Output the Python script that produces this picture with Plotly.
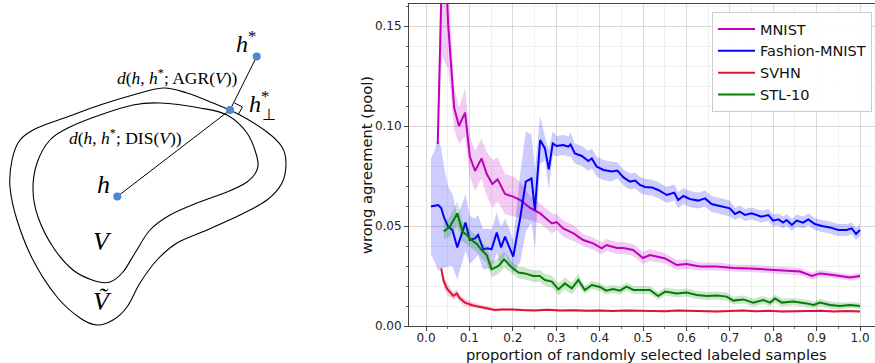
import plotly.graph_objects as go

# ---------------- data ----------------
mnist_x = [0.027, 0.037, 0.047, 0.051, 0.058, 0.065, 0.076, 0.09, 0.101, 0.113, 0.128, 0.14, 0.153, 0.165,
           0.182, 0.201, 0.217, 0.24, 0.263, 0.29, 0.301, 0.316, 0.34, 0.362, 0.385, 0.405, 0.416, 0.44,
           0.455, 0.477, 0.5, 0.516, 0.551, 0.578, 0.6, 0.631, 0.67, 0.708, 0.746, 0.785, 0.831, 0.862,
           0.889, 0.908, 0.938, 0.977, 1.0]
mnist_y = [0.091, 0.18, 0.172, 0.151, 0.13, 0.109, 0.100, 0.1067, 0.0847, 0.0775, 0.0838, 0.076, 0.071, 0.0733,
           0.066, 0.0647, 0.063, 0.059, 0.0563, 0.0513, 0.052, 0.0488, 0.0463, 0.043, 0.0413, 0.0388, 0.0405, 0.039,
           0.039, 0.038, 0.034, 0.0355, 0.0338, 0.0305, 0.031, 0.0297, 0.0297, 0.029, 0.0288, 0.0283, 0.0277, 0.0272,
           0.025, 0.0263, 0.0255, 0.0243, 0.025]
mnist_sd = [0.004, 0.045, 0.042, 0.022, 0.016, 0.011, 0.009, 0.012, 0.010, 0.010, 0.010, 0.011, 0.012, 0.011,
            0.010, 0.010, 0.009, 0.006, 0.005, 0.005, 0.004, 0.004, 0.004, 0.003, 0.003, 0.003, 0.003, 0.003,
            0.003, 0.003, 0.003, 0.003, 0.0025, 0.0025, 0.0025, 0.002, 0.002, 0.0018, 0.0018, 0.0018, 0.0018, 0.0018,
            0.0018, 0.0018, 0.0015, 0.0015, 0.0015]

fashion_x = [0.0115, 0.02, 0.028, 0.035, 0.042, 0.051, 0.061, 0.072, 0.082, 0.091, 0.101, 0.113, 0.12, 0.132,
             0.142, 0.151, 0.163, 0.173, 0.182, 0.191, 0.201, 0.217, 0.23, 0.243, 0.251, 0.263, 0.274, 0.283,
             0.292, 0.301, 0.316, 0.328, 0.333, 0.343, 0.359, 0.374, 0.382, 0.393, 0.409, 0.428, 0.441, 0.455,
             0.47, 0.482, 0.493, 0.505, 0.52, 0.535, 0.555, 0.572, 0.581, 0.593, 0.608, 0.627, 0.643, 0.658,
             0.677, 0.7, 0.712, 0.723, 0.735, 0.75, 0.773, 0.789, 0.8, 0.812, 0.823, 0.831, 0.843, 0.854,
             0.869, 0.881, 0.896, 0.912, 0.931, 0.95, 0.969, 0.981, 0.991, 1.0]
fashion_y = [0.0597, 0.060, 0.0605, 0.059, 0.054, 0.0497, 0.048, 0.0393, 0.0455, 0.0517, 0.043, 0.0438, 0.0455, 0.0383,
             0.0388, 0.0383, 0.0467, 0.0393, 0.0447, 0.040, 0.0347, 0.054, 0.0722, 0.0738, 0.058, 0.093, 0.0888, 0.0783,
             0.0913, 0.090, 0.0905, 0.0897, 0.0908, 0.0863, 0.085, 0.0825, 0.0838, 0.0797, 0.078, 0.0772, 0.0777, 0.0743,
             0.0722, 0.0727, 0.0705, 0.0695, 0.0693, 0.068, 0.0655, 0.0667, 0.063, 0.065, 0.0635, 0.0627, 0.0638, 0.061,
             0.060, 0.0588, 0.056, 0.0572, 0.0555, 0.0563, 0.0547, 0.0555, 0.0527, 0.0533, 0.0517, 0.053, 0.0505, 0.0527,
             0.0517, 0.0533, 0.051, 0.050, 0.0493, 0.048, 0.048, 0.0488, 0.046, 0.048]
fashion_sd = [0.024, 0.028, 0.033, 0.030, 0.025, 0.020, 0.018, 0.016, 0.015, 0.014, 0.012, 0.010, 0.010, 0.010,
              0.010, 0.010, 0.010, 0.010, 0.009, 0.009, 0.008, 0.022, 0.025, 0.022, 0.020, 0.012, 0.006, 0.010,
              0.006, 0.005, 0.005, 0.005, 0.006, 0.005, 0.005, 0.005, 0.005, 0.005, 0.005, 0.005, 0.004, 0.004,
              0.004, 0.004, 0.004, 0.004, 0.004, 0.004, 0.004, 0.004, 0.004, 0.004, 0.004, 0.004, 0.004, 0.004,
              0.004, 0.004, 0.003, 0.003, 0.003, 0.003, 0.003, 0.003, 0.003, 0.003, 0.003, 0.003, 0.003, 0.003,
              0.003, 0.003, 0.003, 0.003, 0.003, 0.003, 0.003, 0.003, 0.003, 0.003]

svhn_x = [0.035, 0.04, 0.048, 0.055, 0.063, 0.071, 0.078, 0.09, 0.105, 0.12, 0.144, 0.159, 0.174, 0.197, 0.22,
          0.25, 0.28, 0.31, 0.34, 0.37, 0.40, 0.43, 0.46, 0.49, 0.52, 0.55, 0.58, 0.61, 0.64, 0.67, 0.70,
          0.73, 0.76, 0.79, 0.82, 0.85, 0.88, 0.91, 0.94, 0.97, 1.0]
svhn_y = [0.0288, 0.023, 0.0188, 0.0172, 0.015, 0.0163, 0.0138, 0.0117, 0.0105, 0.0097, 0.0088, 0.008, 0.0082, 0.0083,
          0.0080, 0.0078, 0.0081, 0.0077, 0.0079, 0.0076, 0.0078, 0.0075, 0.0077, 0.0076, 0.0078, 0.0074, 0.0077,
          0.0075, 0.0076, 0.0073, 0.0075, 0.0077, 0.0074, 0.0076, 0.0073, 0.0075, 0.0074, 0.0076, 0.0073, 0.0075, 0.0072]
svhn_sd = [0.002, 0.003, 0.003, 0.0025, 0.002, 0.002, 0.002, 0.0018, 0.0015, 0.0012, 0.001, 0.0008, 0.0007, 0.0007,
           0.0006, 0.0006, 0.0006, 0.0006, 0.0006, 0.0006, 0.0005, 0.0005, 0.0005, 0.0005, 0.0005, 0.0005, 0.0005,
           0.0005, 0.0005, 0.0005, 0.0005, 0.0005, 0.0005, 0.0005, 0.0005, 0.0005, 0.0005, 0.0005, 0.0005, 0.0005, 0.0005]

stl_x = [0.041, 0.055, 0.072, 0.084, 0.094, 0.105, 0.117, 0.128, 0.14, 0.151, 0.167, 0.18, 0.194, 0.213, 0.228,
         0.247, 0.262, 0.274, 0.29, 0.305, 0.32, 0.336, 0.351, 0.366, 0.382, 0.401, 0.415, 0.431, 0.447, 0.462,
         0.478, 0.497, 0.516, 0.535, 0.551, 0.578, 0.6, 0.624, 0.647, 0.67, 0.693, 0.708, 0.731, 0.754, 0.777,
         0.793, 0.804, 0.82, 0.846, 0.877, 0.893, 0.908, 0.931, 0.954, 0.977, 1.0]
stl_y = [0.0472, 0.0497, 0.0563, 0.0472, 0.0455, 0.043, 0.041, 0.038, 0.0355, 0.0283, 0.030, 0.0333, 0.030, 0.0267,
         0.0263, 0.025, 0.025, 0.023, 0.0222, 0.0183, 0.0213, 0.0188, 0.023, 0.018, 0.0205, 0.0195, 0.0177, 0.0185,
         0.0177, 0.0197, 0.018, 0.018, 0.018, 0.015, 0.0172, 0.0163, 0.0167, 0.0155, 0.015, 0.0152, 0.0147, 0.0127,
         0.0133, 0.0117, 0.013, 0.0117, 0.0138, 0.0117, 0.0122, 0.0113, 0.0105, 0.0117, 0.0105, 0.010, 0.0105, 0.010]
stl_sd = [0.004, 0.005, 0.006, 0.005, 0.005, 0.004, 0.004, 0.004, 0.004, 0.004, 0.004, 0.004, 0.003, 0.003,
          0.003, 0.003, 0.003, 0.003, 0.003, 0.003, 0.003, 0.003, 0.003, 0.002, 0.002, 0.002, 0.002, 0.002,
          0.002, 0.002, 0.002, 0.002, 0.002, 0.002, 0.002, 0.002, 0.002, 0.002, 0.002, 0.002, 0.002, 0.002,
          0.002, 0.002, 0.002, 0.002, 0.002, 0.002, 0.0018, 0.0018, 0.0018, 0.0018, 0.0018, 0.0018, 0.0015, 0.0015]

series_names = ["MNIST", "Fashion-MNIST", "SVHN", "STL-10"]
x_ticks = [0.0, 0.1, 0.2, 0.3, 0.4, 0.5, 0.6, 0.7, 0.8, 0.9, 1.0]
y_ticks = [0.00, 0.05, 0.10, 0.15]

# ---------------- diagram (schematic, pixel space) ----------------
outer_pts = [(163, 88), (187, 93), (213, 103), (240, 115), (267, 132), (282, 147), (286, 163), (282, 183),
             (267, 200), (240, 215), (207, 230), (177, 243), (157, 260), (140, 283), (127, 307), (113, 320),
             (97, 325), (80, 318), (57, 297), (33, 260), (17, 220), (10, 187), (12, 160), (20, 140), (37, 128),
             (67, 117), (100, 105), (133, 95)]
inner_pts = [(160, 103), (200, 108), (227, 115), (247, 133), (257, 157), (257, 170), (247, 182), (227, 192),
             (197, 203), (170, 215), (150, 230), (135, 253), (123, 272), (110, 282), (95, 281), (73, 270),
             (53, 247), (38, 217), (33, 190), (37, 163), (50, 140), (70, 127), (100, 115), (133, 105)]
point_h = (117.3, 196.5)
point_hstar = (256.7, 56.5)
point_hperp = (230.0, 110.0)

C_M, C_B, C_R, C_G = "#bf00bf", "#0000ff", "#dc143c", "#008000"
F_M, F_B, F_R, F_G = ("rgba(191,0,191,0.2)", "rgba(0,0,255,0.2)", "rgba(220,20,60,0.2)", "rgba(0,128,0,0.2)")

W, H = 875, 363
PL, PT, PB = 409, 4, 326      # plot-area pixel edges
X0PX, X1PX = 426.0, 860.0     # pixel of x=0 and x=1

fig = go.Figure()

def add_series(xs, ys, sd, name, lc, fc, group):
    up = [y + s for y, s in zip(ys, sd)]
    lo = [y - s for y, s in zip(ys, sd)]
    fig.add_trace(go.Scatter(x=xs + xs[::-1], y=up + lo[::-1], fill="toself", fillcolor=fc,
                             line=dict(width=0), mode="lines", showlegend=False, hoverinfo="skip",
                             xaxis="x", yaxis="y"))
    fig.add_trace(go.Scatter(x=xs, y=ys, mode="lines", name=name, line=dict(color=lc, width=2),
                             legendgroup=group, xaxis="x", yaxis="y"))

add_series(mnist_x, mnist_y, mnist_sd, series_names[0], C_M, F_M, "a")
add_series(fashion_x, fashion_y, fashion_sd, series_names[1], C_B, F_B, "b")
add_series(svhn_x, svhn_y, svhn_sd, series_names[2], C_R, F_R, "c")
add_series(stl_x, stl_y, stl_sd, series_names[3], C_G, F_G, "d")

# diagram lines and points
fig.add_trace(go.Scatter(x=[point_h[0], point_hperp[0], point_hstar[0]],
                         y=[point_h[1], point_hperp[1], point_hstar[1]],
                         mode="lines", line=dict(color="black", width=1), showlegend=False,
                         hoverinfo="skip", xaxis="x2", yaxis="y2"))
fig.add_trace(go.Scatter(x=[point_h[0], point_hperp[0], point_hstar[0]],
                         y=[point_h[1], point_hperp[1], point_hstar[1]],
                         mode="markers", marker=dict(color="#4a88d0", size=8), showlegend=False,
                         hoverinfo="skip", xaxis="x2", yaxis="y2"))


def smooth_closed(pts):
    n = len(pts)
    d = f"M {pts[0][0]},{pts[0][1]}"
    for i in range(n):
        p0, p1, p2, p3 = pts[i - 1], pts[i], pts[(i + 1) % n], pts[(i + 2) % n]
        c1 = (p1[0] + (p2[0] - p0[0]) / 6, p1[1] + (p2[1] - p0[1]) / 6)
        c2 = (p2[0] - (p3[0] - p1[0]) / 6, p2[1] - (p3[1] - p1[1]) / 6)
        d += f" C {c1[0]:.2f},{c1[1]:.2f} {c2[0]:.2f},{c2[1]:.2f} {p2[0]},{p2[1]}"
    return d + " Z"

shapes = [
    dict(type="path", path=smooth_closed(outer_pts), xref="x2", yref="y2",
         line=dict(color="black", width=1.1), layer="below"),
    dict(type="path", path=smooth_closed(inner_pts), xref="x2", yref="y2",
         line=dict(color="black", width=1.1), layer="below"),
    dict(type="path", path="M 234.5,103 L 242.5,107 L 238.5,114", xref="x2", yref="y2",
         line=dict(color="black", width=1)),
]

serif = "Liberation Serif"
ann = []
def lab(x, y, text, size):
    ann.append(dict(x=x, y=y, xref="x2", yref="y2", text=text, showarrow=False,
                    xanchor="center", yanchor="middle",
                    font=dict(family=serif, size=size, color="black")))

lab(246, 42, "<i>h</i><sup>*</sup>", 24)
lab(177, 77, "<i>d</i>(<i>h</i>, <i>h</i><sup>*</sup>; AGR(<i>V</i>))", 17.5)
lab(259, 102, "<i>h</i><sup>*</sup>", 24)
lab(268.5, 114, "⊥", 16)
lab(125, 137, "<i>d</i>(<i>h</i>, <i>h</i><sup>*</sup>; DIS(<i>V</i>))", 17.5)
lab(103, 184, "<i>h</i>", 26)
lab(102, 241, "<i>V</i>", 26)
lab(102, 301, "<i>V\u0303</i>", 26)

# axis titles
ann.append(dict(x=646 / W, y=1 - 354 / H, xref="paper", yref="paper", xanchor="center", yanchor="middle",
                text="proportion of randomly selected labeled samples", showarrow=False,
                font=dict(family="DejaVu Sans", size=14.7, color="#111")))
ann.append(dict(x=366 / W, y=1 - 165 / H, xref="paper", yref="paper", textangle=-90,
                xanchor="center", yanchor="middle",
                text="wrong agreement (pool)", showarrow=False,
                font=dict(family="DejaVu Sans", size=14.7, color="#111")))

xr0 = (PL - X0PX) / (X1PX - X0PX)
xr1 = (W - X0PX) / (X1PX - X0PX)

fig.update_layout(
    width=W, height=H, margin=dict(l=0, r=0, t=0, b=0),
    paper_bgcolor="white", plot_bgcolor="white",
    font=dict(family="DejaVu Sans", size=12, color="#222"),
    xaxis=dict(domain=[PL / W, 1.0], range=[xr0, xr1], tickvals=x_ticks,
               ticktext=[f"{v:.1f}" for v in x_ticks], showgrid=True, gridcolor="#d9d9d9", gridwidth=1,
               zeroline=False, showline=True, linecolor="#444", linewidth=1, mirror=True,
               ticks="outside", ticklen=4, tickcolor="#444", ticklabelstandoff=-3,
               minor=dict(dtick=0.05, tick0=0, showgrid=True, gridcolor="#efefef", gridwidth=1,
                          ticks="outside", ticklen=2, tickcolor="#666"),
               automargin=False, anchor="y"),
    yaxis=dict(domain=[1 - PB / H, 1 - PT / H], range=[0, 0.161], tickvals=y_ticks,
               ticktext=[f"{v:.2f}" for v in y_ticks], showgrid=True, gridcolor="#d9d9d9", gridwidth=1,
               zeroline=False, showline=True, linecolor="#444", linewidth=1,
               ticks="outside", ticklen=4, tickcolor="#444",
               minor=dict(dtick=0.01, tick0=0, showgrid=True, gridcolor="#efefef", gridwidth=1,
                          ticks="outside", ticklen=2, tickcolor="#666"),
               automargin=False, anchor="x"),
    xaxis2=dict(domain=[0, 300 / W], range=[0, 300], visible=False, anchor="y2"),
    yaxis2=dict(domain=[0, 1], range=[H, 0], visible=False, anchor="x2"),
    legend=dict(x=712 / W, y=1 - 12 / H, xanchor="left", yanchor="top",
                bgcolor="rgba(255,255,255,0.9)", bordercolor="#cccccc", borderwidth=1,
                font=dict(family="DejaVu Sans", size=14.5, color="#111"),
                tracegroupgap=3, traceorder="normal", itemwidth=37),
    shapes=shapes, annotations=ann, showlegend=True,
)

fig.write_html("out.html", config={"displayModeBar": False},
               post_script="document.body.style.margin='0';document.body.style.padding='0';"
                           "document.body.style.overflow='hidden';")
